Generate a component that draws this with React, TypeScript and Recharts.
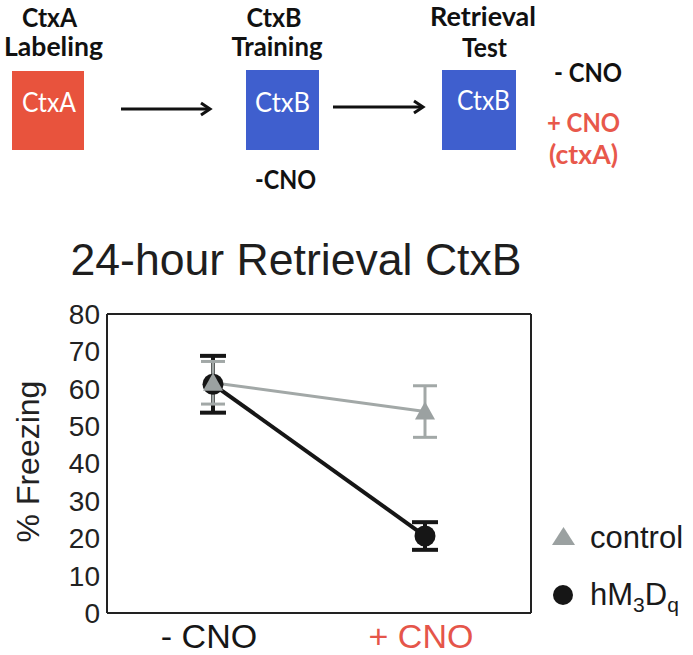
import React from 'react';
import { LineChart, Line, XAxis, YAxis, ErrorBar, ReferenceLine, Legend } from 'recharts';

// conditions on the x axis
const conditions = ['- CNO', '+ CNO'];
const conditionColors = ['#161616', '#e5554a'];

// % freezing, mean and error bar half-height
const controlMean = [61.6, 53.9];
const controlErr = [5.7, 6.9];
const hm3dqMean = [61.2, 20.6];
const hm3dqErr = [7.6, 3.7];

const yTicks = [0, 10, 20, 30, 40, 50, 60, 70, 80];

const data = conditions.map((name, i) => ({
  x: i,
  name,
  control: controlMean[i],
  controlErr: controlErr[i],
  hm3dq: hm3dqMean[i],
  hm3dqErr: hm3dqErr[i],
}));

const GRAY = '#a2a8a7';
const BLACK = '#161616';
const FONT = '"Liberation Sans", Arial, sans-serif';
const SCHEME_FONT = 'Lato, "Open Sans", sans-serif';

const TriangleDot = (props: any) => {
  const { cx, cy, index } = props;
  if (cx == null || cy == null) return <g key={`t-${index}`} />;
  return (
    <polygon
      key={`t-${index}`}
      points={`${cx - 10},${cy + 8} ${cx + 10},${cy + 8} ${cx},${cy - 10}`}
      fill="#9ba1a1"
    />
  );
};

const XTick = (props: any) => {
  const { x, y, payload } = props;
  const i = payload.value as number;
  return (
    <text x={x} y={y} dx={-4} dy={25} textAnchor="middle" fontSize={34} fontFamily={FONT} fill={conditionColors[i]}>
      {conditions[i]}
    </text>
  );
};

const YLabel = (props: any) => {
  const vb = props.viewBox || { x: 47, y: 314, height: 299 };
  const cx = vb.x - 8;
  const cy = vb.y + vb.height / 2 - 2;
  return (
    <text x={cx} y={cy} transform={`rotate(-90 ${cx} ${cy})`} textAnchor="middle" fontSize={32} fontFamily={FONT} fill="#222">
      % Freezing
    </text>
  );
};

const LegendBox = () => (
  <svg width={153} height={120}>
    <polygon points="12,35 35,35 23.5,17" fill="#9ba1a1" />
    <text x={50} y={38} fontSize={31} fontFamily={FONT} fill="#1a1a1a">control</text>
    <circle cx={23} cy={85} r={10} fill={BLACK} />
    <text x={50} y={95} fontSize={31} fontFamily={FONT} fill="#1a1a1a">
      hM
      <tspan fontSize={21} dy={7}>3</tspan>
      <tspan dy={-7}>D</tspan>
      <tspan fontSize={21} dy={7}>q</tspan>
    </text>
  </svg>
);

const Arrow = ({ x1, x2, y }: { x1: number; x2: number; y: number }) => (
  <g stroke="#111" strokeWidth={3} fill="none">
    <line x1={x1} y1={y} x2={x2 - 1} y2={y} />
    <polyline points={`${x2 - 9},${y - 6} ${x2},${y} ${x2 - 9},${y + 6}`} />
  </g>
);

const Schematic = () => {
  const head = { fontFamily: SCHEME_FONT, fontWeight: 700, fontSize: 26, textAnchor: 'middle' as const, lengthAdjust: 'spacingAndGlyphs' as const };
  const inBox = { fontFamily: SCHEME_FONT, fontWeight: 400, fontSize: 26, textAnchor: 'middle' as const, fill: '#ffffff', lengthAdjust: 'spacingAndGlyphs' as const };
  return (
    <svg width={693} height={290} style={{ position: 'absolute', left: 0, top: 0 }}>
      <text {...head} x={49.5} y={27} textLength={55} fill="#111">CtxA</text>
      <text {...head} x={53.5} y={56} textLength={99} fill="#111">Labeling</text>
      <text {...head} x={274} y={27} textLength={55} fill="#111">CtxB</text>
      <text {...head} x={277} y={56} textLength={91} fill="#111">Training</text>
      <text {...head} x={483} y={26} textLength={106} fill="#111">Retrieval</text>
      <text {...head} x={484.5} y={57} textLength={45} fill="#111">Test</text>

      <rect x={12} y={71} width={72} height={79} fill="#e8533d" />
      <rect x={246} y={70} width={73} height={80} fill="#3f5fce" />
      <rect x={442} y={70} width={74} height={80} fill="#3f5fce" />
      <text {...inBox} x={49} y={112} textLength={54}>CtxA</text>
      <text {...inBox} x={282.5} y={112} textLength={55}>CtxB</text>
      <text {...inBox} x={483.5} y={110} textLength={53}>CtxB</text>

      <Arrow x1={121} x2={210} y={109} />
      <Arrow x1={333} x2={423} y={107} />

      <text {...head} x={285.5} y={189} textLength={61} fill="#111">-CNO</text>
      <text {...head} x={588} y={82} textLength={68} fill="#111">- CNO</text>
      <text {...head} x={583.5} y={132} textLength={73} fill="#e8584b">+ CNO</text>
      <text {...head} x={583.5} y={164} textLength={69} fill="#e8584b">(ctxA)</text>

      <text x={70.5} y={275} fontSize={44} fontFamily={FONT} fill="#1e1e1e" textLength={451} lengthAdjust="spacingAndGlyphs">
        24-hour Retrieval CtxB
      </text>
    </svg>
  );
};

export default function App() {
  return (
    <div style={{ position: 'absolute', left: 0, top: 0, width: 693, height: 655, background: '#fff', overflow: 'hidden' }}>
      <LineChart width={693} height={655} data={data} margin={{ top: 314, right: 162, bottom: 0, left: 47 }}>
        <XAxis
          dataKey="x"
          type="number"
          domain={[-0.5, 1.5]}
          ticks={[0, 1]}
          height={42}
          tickSize={0}
          tickMargin={10}
          tick={<XTick />}
          axisLine={{ stroke: '#222', strokeWidth: 2 }}
        />
        <YAxis
          yAxisId="left"
          domain={[0, 80]}
          ticks={yTicks}
          width={60}
          tickSize={0}
          tickMargin={7}
          tick={{ fontSize: 28, fontFamily: FONT, fill: '#222' }}
          axisLine={{ stroke: '#222', strokeWidth: 2 }}
          label={<YLabel />}
        />
        <YAxis
          yAxisId="right"
          orientation="right"
          domain={[0, 80]}
          ticks={yTicks}
          width={1}
          mirror
          tickSize={4}
          tick={false}
          tickLine={{ stroke: '#333', strokeWidth: 1 }}
          axisLine={{ stroke: '#222', strokeWidth: 2 }}
        />
        <ReferenceLine yAxisId="left" y={80} stroke="#222" strokeWidth={2} />
        <Line
          yAxisId="left"
          dataKey="hm3dq"
          name="hM3Dq"
          stroke={BLACK}
          strokeWidth={4}
          dot={{ r: 10.5, fill: BLACK, stroke: BLACK, strokeWidth: 0 }}
          isAnimationActive={false}
        >
          <ErrorBar dataKey="hm3dqErr" direction="y" width={13} stroke={BLACK} strokeWidth={4} />
        </Line>
        <Line
          yAxisId="left"
          dataKey="control"
          name="control"
          stroke={GRAY}
          strokeWidth={3}
          dot={(p: any) => <TriangleDot {...p} key={`t-${p.index}`} />}
          isAnimationActive={false}
        >
          <ErrorBar dataKey="controlErr" direction="y" width={12} stroke={GRAY} strokeWidth={3} />
        </Line>
        <Legend
          layout="vertical"
          align="center"
          verticalAlign="middle"
          content={<LegendBox />}
          wrapperStyle={{ left: 540, top: 510, width: 153, height: 120 }}
        />
      </LineChart>
      <Schematic />
    </div>
  );
}
